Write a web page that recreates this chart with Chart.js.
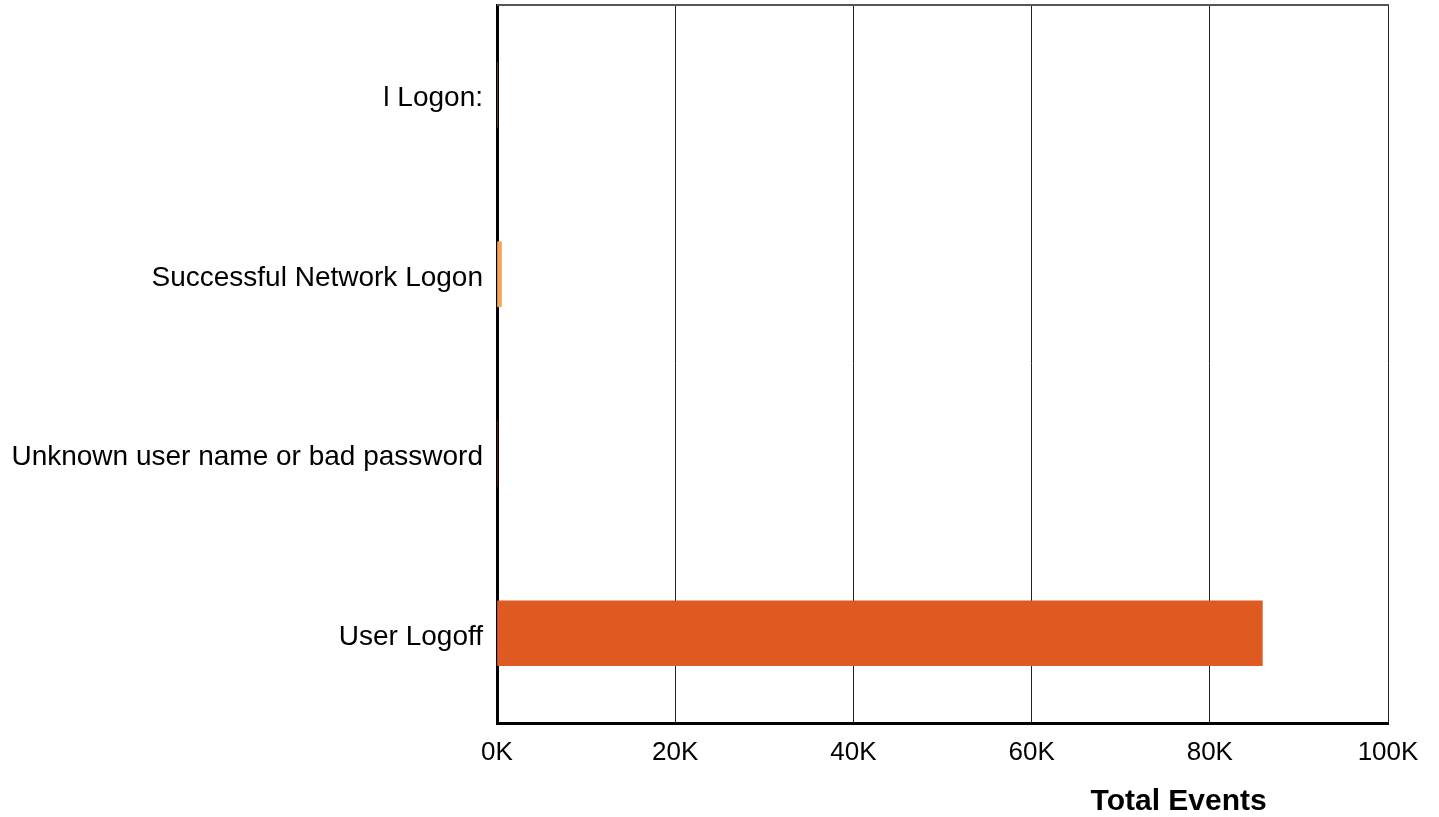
<!DOCTYPE html>
<html>
<head>
<meta charset="utf-8">
<script src="https://cdn.jsdelivr.net/npm/chart.js@4/dist/chart.umd.min.js"></script>
<style>
  html, body { margin: 0; padding: 0; background: #fff; }
  #wrap { width: 1439px; height: 817px; position: relative; }
</style>
</head>
<body>
<div id="wrap"><canvas id="c" width="1439" height="817"></canvas></div>
<script>
const categories = ["l Logon:", "Successful Network Logon", "Unknown user name or bad password", "User Logoff"];
const totalEvents = [0, 500, 0, 85900];
const barColors = ["#F4A453", "#F4A453", "#DE5A21", "#DE5A21"];
const xTickValues = [0, 20000, 40000, 60000, 80000, 100000];
const xTitle = "Total Events";

const FONT = "'Liberation Sans', Arial, sans-serif";

const frame = {
  id: 'frame',
  afterDatasetsDraw(chart) {
    const { ctx, chartArea: a } = chart;
    ctx.save();
    ctx.strokeStyle = '#555';
    ctx.lineWidth = 2;
    ctx.beginPath();
    ctx.moveTo(a.left, a.top);
    ctx.lineTo(a.right + 1, a.top);
    ctx.stroke();
    ctx.restore();
  },
  afterDraw(chart) {
    const { ctx, chartArea: a } = chart;
    ctx.save();
    ctx.font = "bold 30px " + FONT;
    ctx.fillStyle = '#000';
    ctx.textAlign = 'center';
    ctx.textBaseline = 'middle';
    ctx.fillText(xTitle, a.left + 0.765 * (a.right - a.left), 802);
    ctx.restore();
  }
};

new Chart(document.getElementById('c'), {
  type: 'bar',
  data: {
    labels: categories,
    datasets: [{
      label: xTitle,
      data: totalEvents,
      backgroundColor: barColors,
      borderWidth: 0,
      barThickness: 65
    }]
  },
  options: {
    indexAxis: 'y',
    responsive: false,
    animation: false,
    layout: { padding: { top: 5, right: 51, left: 0, bottom: 0 } },
    plugins: { legend: { display: false }, tooltip: { enabled: false } },
    scales: {
      x: {
        min: 0, max: 100000,
        afterBuildTicks(scale) { scale.ticks = xTickValues.map(v => ({ value: v })); },
        afterFit(scale) { scale.height = 94; },
        grid: { color: '#222', lineWidth: 1, drawTicks: false },
        border: { display: true, color: '#000', width: 3 },
        ticks: {
          padding: 14,
          color: '#000',
          font: { family: FONT, size: 26 },
          callback: v => (v / 1000) + 'K'
        }
      },
      y: {
        afterFit(scale) { scale.width = 497; scale.paddingTop = 0; scale.paddingBottom = 0; },
        grid: { display: false, drawTicks: false },
        border: { display: true, color: '#000', width: 3 },
        ticks: {
          padding: 14,
          labelOffset: 4,
          color: '#000',
          font: { family: FONT, size: 28 }
        }
      }
    }
  },
  plugins: [frame]
});
</script>
</body>
</html>
